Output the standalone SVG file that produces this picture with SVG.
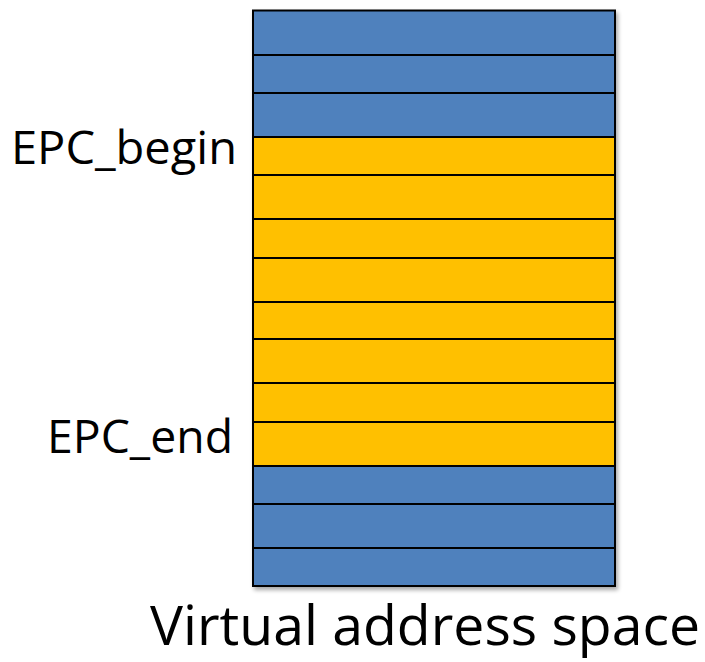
<svg xmlns="http://www.w3.org/2000/svg" width="705" height="662" viewBox="0 0 705 662">
<defs>
<style>
.b{fill:#4f81bd;stroke:#000;stroke-width:2}
.y{fill:#ffc000;stroke:#000;stroke-width:2}
.t{font-family:"Open Sans","Liberation Sans",sans-serif;fill:#000}
</style>
<filter id="sh" x="-5%" y="-5%" width="115%" height="115%">
<feGaussianBlur in="SourceAlpha" stdDeviation="2"/>
<feOffset dx="2" dy="3"/>
<feComponentTransfer><feFuncA type="linear" slope="0.35"/></feComponentTransfer>
<feMerge><feMergeNode/><feMergeNode in="SourceGraphic"/></feMerge>
</filter>
</defs>
<rect width="705" height="662" fill="#fff"/>
<g id="stack" filter="url(#sh)">
<rect id="r1" class="b" x="253" y="10.5" width="362" height="44.5"/>
<rect id="r2" class="b" x="253" y="55" width="362" height="38"/>
<rect id="r3" class="b" x="253" y="93" width="362" height="44"/>
<rect id="r4" class="y" x="253" y="137" width="362" height="38"/>
<rect id="r5" class="y" x="253" y="175" width="362" height="44"/>
<rect id="r6" class="y" x="253" y="219" width="362" height="39"/>
<rect id="r7" class="y" x="253" y="258" width="362" height="44"/>
<rect id="r8" class="y" x="253" y="302" width="362" height="37"/>
<rect id="r9" class="y" x="253" y="339" width="362" height="44"/>
<rect id="r10" class="y" x="253" y="383" width="362" height="39"/>
<rect id="r11" class="y" x="253" y="422" width="362" height="44"/>
<rect id="r12" class="b" x="253" y="466" width="362" height="38"/>
<rect id="r13" class="b" x="253" y="504" width="362" height="44"/>
<rect id="r14" class="b" x="253" y="548" width="362" height="38"/>
</g>
<g id="labels">
<text class="t" x="11" y="164" font-size="46" textLength="226" lengthAdjust="spacingAndGlyphs">EPC_begin</text>
<text class="t" x="47" y="453" font-size="46" textLength="186" lengthAdjust="spacingAndGlyphs">EPC_end</text>
<text class="t" x="150" y="645" font-size="54" textLength="550" lengthAdjust="spacingAndGlyphs">Virtual address space</text>
</g>
</svg>
